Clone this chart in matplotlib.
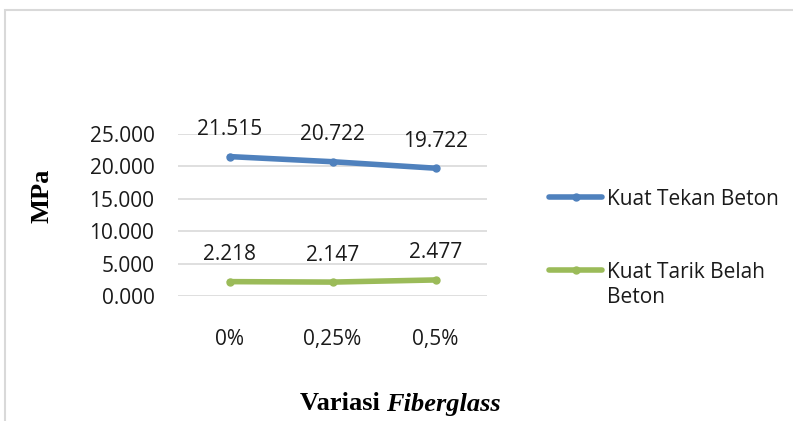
import matplotlib.pyplot as plt
from matplotlib.patches import Rectangle
from matplotlib.lines import Line2D

categories = ['0%', '0,25%', '0,5%']
kuat_tekan = [21.515, 20.722, 19.722]
kuat_tarik = [2.218, 2.147, 2.477]
yticks = [0, 5, 10, 15, 20, 25]
series_names = ['Kuat Tekan Beton', 'Kuat Tarik Belah\nBeton']
colors = ['#4f81bd', '#9bbb59']

plt.rcParams['font.family'] = ['Open Sans', 'DejaVu Sans']
W, H = 793, 421

fig = plt.figure(figsize=(W / 100, H / 100), dpi=100)
# chart frame (cropped excel-style border)
fig.patches.append(Rectangle((5 / W, -0.1), 1.2, (H - 10) / H + 0.1,
                             transform=fig.transFigure, fill=False,
                             edgecolor='#d9d9d9', linewidth=1.5))

ax = fig.add_axes([178 / W, (H - 296) / H, 309 / W, 162 / H])
x = range(len(categories))
for vals, c in zip([kuat_tekan, kuat_tarik], colors):
    ax.plot(x, vals, color=c, lw=4, marker='o', ms=5,
            solid_capstyle='round')
    for xi, v in zip(x, vals):
        ax.annotate(f'{v:.3f}', (xi, v), xytext=(0, 19.5), textcoords='offset points',
                    ha='center', va='center', fontsize=15, color='#1a1a1a')

ax.set_xlim(-0.5, 2.5)
ax.set_ylim(0, 25)
ax.set_yticks(yticks)
ax.set_yticklabels([f'{t:.3f}' for t in yticks], fontsize=15, color='#1a1a1a')
ax.set_xticks(list(x))
ax.set_xticklabels(categories, fontsize=15, color='#1a1a1a')
ax.tick_params(length=0)
ax.tick_params(axis='y', pad=17)
ax.tick_params(axis='x', pad=23.5)
ax.grid(axis='y', color='#d9d9d9', lw=1.2)
ax.set_axisbelow(True)
for s in ax.spines.values():
    s.set_visible(False)

# axis titles
fig.text(42 / W, 1 - 196 / H, 'MPa', rotation=90, ha='center', va='center',
         fontsize=19, fontweight='bold', family='Liberation Serif')
fig.text(386 / W, 1 - 404 / H, 'Variasi ', ha='right', va='center',
         fontsize=19, fontweight='bold', family='Liberation Serif')
fig.text(386 / W, 1 - 404 / H, 'Fiberglass', ha='left', va='center',
         fontsize=19, fontweight='bold', style='italic', family='Liberation Serif')

# legend, drawn by hand to match the excel layout
for name, c, yl in zip(series_names, colors, [197, 270]):
    fig.add_artist(Line2D([549 / W, 602 / W], [1 - yl / H, 1 - yl / H],
                          transform=fig.transFigure, color=c, lw=4,
                          solid_capstyle='round'))
    fig.add_artist(Line2D([575.5 / W], [1 - yl / H], transform=fig.transFigure,
                          color=c, marker='o', ms=5))
    fig.text(607 / W, 1 - (yl - 8) / H, name, ha='left', va='top',
             fontsize=15, color='#1a1a1a', linespacing=1.25)

fig.savefig('out.png', dpi=100)
